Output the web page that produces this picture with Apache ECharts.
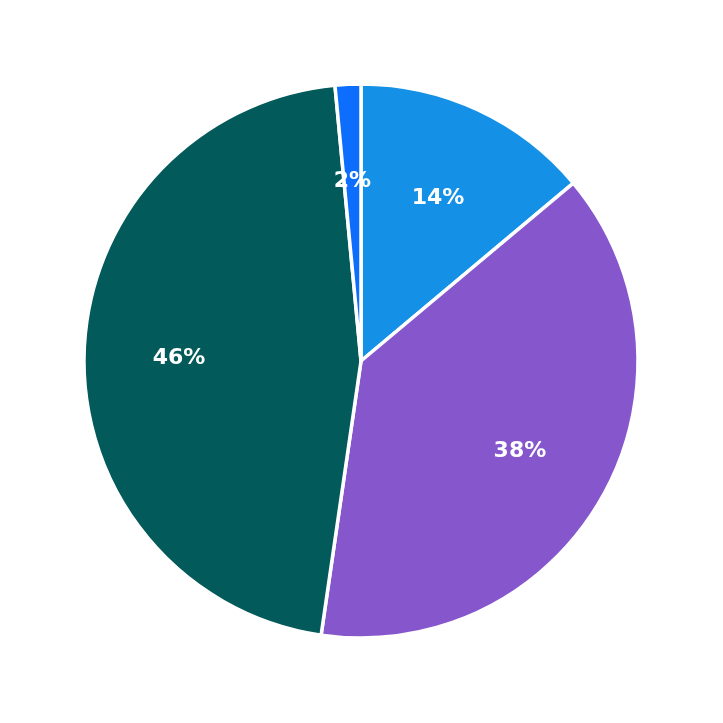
<!DOCTYPE html>
<html><head><meta charset="utf-8">
<script src="https://cdn.jsdelivr.net/npm/echarts@6/dist/echarts.min.js"></script>
<style>html,body{margin:0;padding:0;background:#fff}#c{width:723px;height:723px}</style>
</head><body><div id="c"></div>
<script>
const categories = ['A', 'B', 'C', 'D'];
const values = [13.9, 38.4, 46.2, 1.5];
const labels = ['14%', '38%', '46%', '2%'];
const colors = ['#1491E6', '#8657CC', '#025A5A', '#0D6EFD'];

const chart = echarts.init(document.getElementById('c'));
const data = categories.map((c, i) => ({ name: c, value: values[i] }));
chart.setOption({
  animation: false,
  series: [
    {
      type: 'pie',
      center: [361, 361],
      radius: [0, 277],
      startAngle: 90,
      clockwise: true,
      data: data.map((d, i) => ({ ...d, itemStyle: { color: colors[i] } })),
      itemStyle: { borderColor: '#fff', borderWidth: 3.5 },
      label: { show: false },
      labelLine: { show: false },
      silent: true
    },
    {
      type: 'pie',
      center: [361, 363],
      radius: [82, 276],
      startAngle: 90,
      clockwise: true,
      data: data.map((d, i) => ({ ...d, itemStyle: { color: 'rgba(0,0,0,0)' } })),
      itemStyle: { borderWidth: 0 },
      label: {
        show: true,
        position: 'inside',
        formatter: p => labels[p.dataIndex],
        color: '#fff',
        fontFamily: 'DejaVu Sans',
        fontWeight: 'bold',
        fontSize: 22,
        textBorderWidth: 0
      },
      labelLine: { show: false },
      silent: true
    }
  ]
});
</script></body></html>
